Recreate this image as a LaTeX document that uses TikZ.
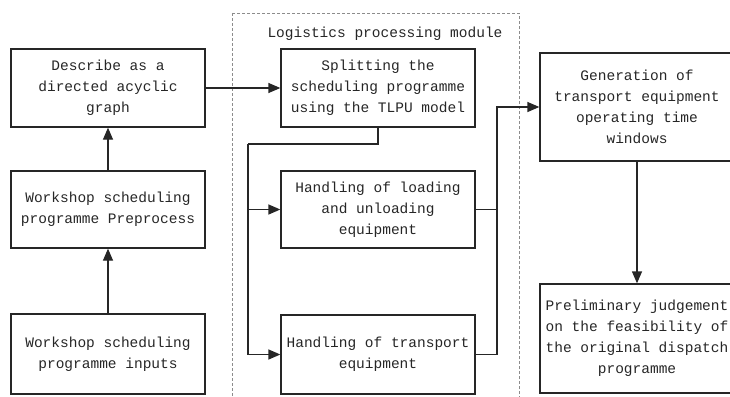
\documentclass[tikz,border=0pt]{standalone}
\usepackage{fontspec}
\setmonofont{Liberation Mono}
\usepackage{tikz}
\usetikzlibrary{positioning,arrows.meta,calc}

\begin{document}
\begin{tikzpicture}[
    x=1pt, y=-1pt,
    font=\ttfamily\fontsize{14.5pt}{21pt}\selectfont,
    box/.style={rectangle, draw=black!85, line width=1.3pt, minimum width=194pt, align=center, inner sep=2pt, text=black!85},
    arr/.style={-{Triangle[length=12pt, width=10pt]}, line width=1.3pt, draw=black!85},
    wire/.style={line width=1.3pt, draw=black!85},
    label/.style={text=black!85}
]
\useasboundingbox (0,0) rectangle (730,396);
\clip (0,0) rectangle (730,396);

% module frame
\draw[black!45, line width=0.8pt, dash pattern=on 3pt off 2pt] (232,13) rectangle (519,410);
\node[label] (modlabel) at (385,34) {Logistics processing module};

% left column
\node[box, minimum height=78pt] (dag) at (108,88) {Describe as a\\directed acyclic\\graph};
\node[box, minimum height=77pt] (prep) at (108,209.5) {Workshop scheduling\\programme Preprocess};
\node[box, minimum height=80pt] (inputs) at (108,354) {Workshop scheduling\\programme inputs};

% module boxes
\node[box, minimum height=78pt] (split) at (378,88) {Splitting the\\scheduling programme\\using the TLPU model};
\node[box, minimum height=77pt] (load) at (378,209.5) {Handling of loading\\and unloading\\equipment};
\node[box, minimum height=79pt] (trans) at (378,354.5) {Handling of transport\\equipment};

% right column
\node[box, minimum height=108pt] (gen) at (637,107) {Generation of\\transport equipment\\operating time\\windows};
\node[box, minimum height=109pt] (prelim) at (637,338.5) {Preliminary judgement\\on the feasibility of\\the original dispatch\\programme};

\coordinate (busL) at (248,144);
\coordinate (busR) at (497,107);

\draw[arr] (inputs) -- (prep);
\draw[arr] (prep) -- (dag);
\draw[arr] (dag) -- (split);

\draw[wire] (split.south) |- (busL);
\draw[arr] (busL) |- (load.west);
\draw[arr] (busL) |- (trans.west);

\draw[wire] (load.east) -| (busR);
\draw[arr] (trans.east) -| (busR) -- (gen.west);

\draw[arr] (gen) -- (prelim);

\end{tikzpicture}
\end{document}
